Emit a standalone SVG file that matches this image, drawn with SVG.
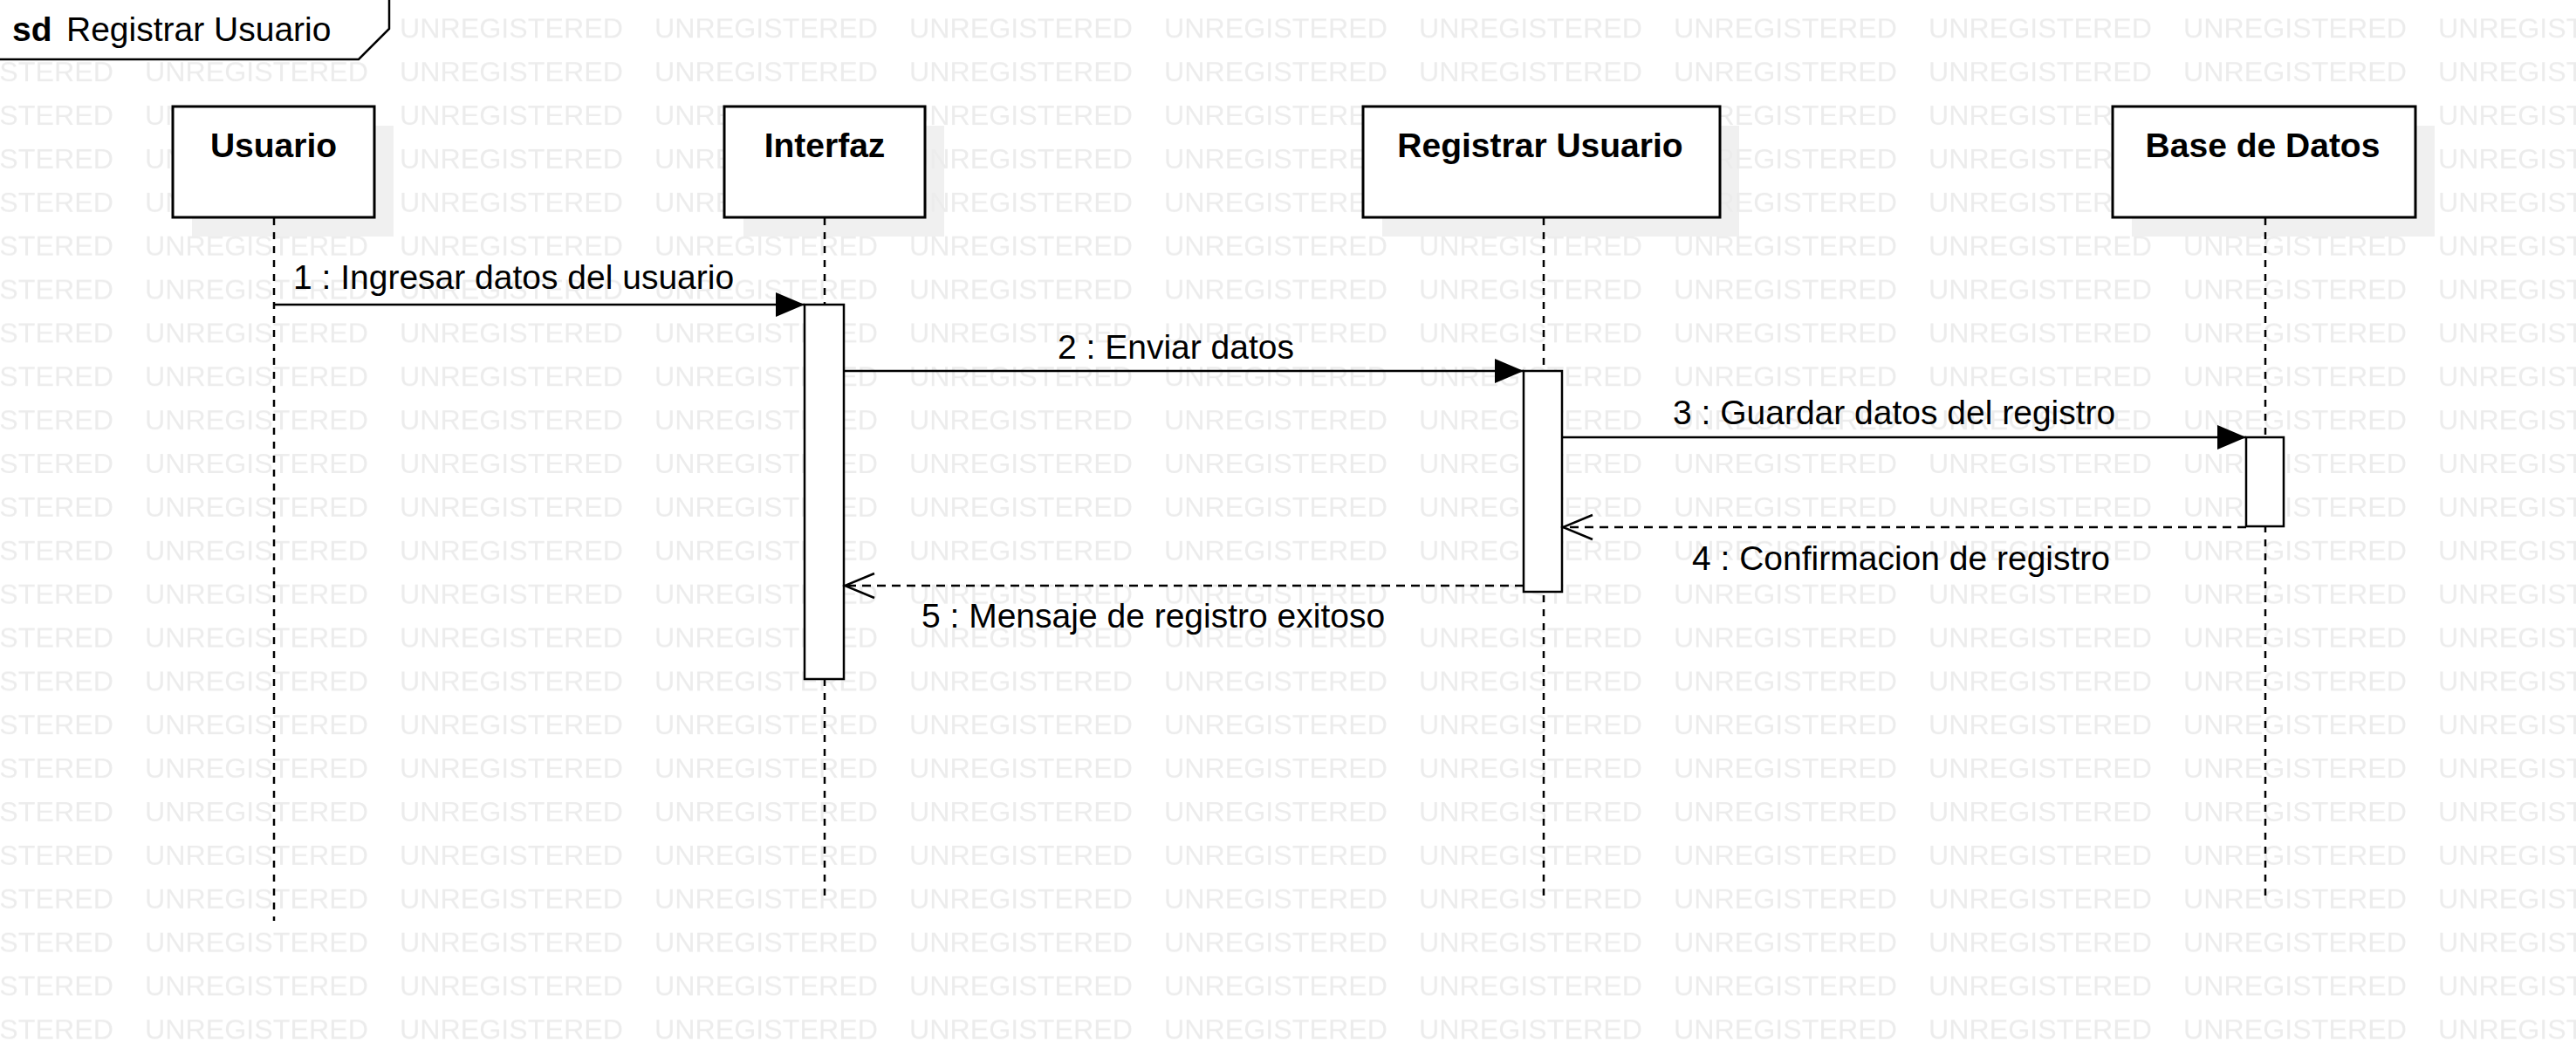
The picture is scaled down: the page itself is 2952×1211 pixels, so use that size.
<svg xmlns="http://www.w3.org/2000/svg" width="2952" height="1211" viewBox="0 0 2952 1211">
<style>
.t{font-family:"Liberation Sans",Arial,sans-serif;font-size:39px;fill:#000}
.b{font-weight:bold}
.box{fill:#fff;stroke:#000;stroke-width:3}
.sh{fill:#f0f0f0}
.life{stroke:#000;stroke-width:2.5;stroke-dasharray:8 8;fill:none}
.bar{fill:#fff;stroke:#000;stroke-width:2.5}
.msg{stroke:#000;stroke-width:2.5;fill:none}
.ret{stroke:#000;stroke-width:2.5;fill:none;stroke-dasharray:10 7}
.wm{font-family:"Liberation Sans",Arial,sans-serif;font-size:31px;fill:#ececec}
</style>
<defs>
<pattern id="wmp" patternUnits="userSpaceOnUse" x="166" y="3.4" width="292" height="49.87">
<text class="wm" x="0" y="40" textLength="256" lengthAdjust="spacingAndGlyphs">UNREGISTERED</text>
</pattern>
<marker id="fill" markerUnits="userSpaceOnUse" viewBox="0 0 33 28" refX="33" refY="14" markerWidth="33" markerHeight="28" orient="auto">
<path d="M0,0 L33,14 L0,28 Z" fill="#000"/>
</marker>
<marker id="open" markerUnits="userSpaceOnUse" viewBox="-3 -3 40 34" refX="34" refY="14" markerWidth="40" markerHeight="34" orient="auto">
<path d="M0,0 L34,14 L0,28" fill="none" stroke="#000" stroke-width="2.5"/>
</marker>
</defs>
<rect x="0" y="0" width="2952" height="1211" fill="#fff"/>
<g id="shadows">
<rect class="sh" x="220" y="144" width="231" height="127"/>
<rect class="sh" x="852" y="144" width="230" height="127"/>
<rect class="sh" x="1584" y="144" width="409" height="127"/>
<rect class="sh" x="2443" y="144" width="347" height="127"/>
</g>
<rect id="watermark" x="0" y="0" width="2952" height="1211" fill="url(#wmp)"/>
<g id="frame">
<path d="M-10,-10 L446,-10 L446,33 L411,68 L-10,68 Z" fill="#fff" stroke="#000" stroke-width="2.5"/>
<text class="t" x="14" y="47"><tspan class="b">sd</tspan><tspan x="76">Registrar Usuario</tspan></text>
</g>
<g id="lifelines">
<line class="life" x1="314" y1="250" x2="314" y2="1055"/>
<line class="life" x1="945" y1="250" x2="945" y2="1031"/>
<line class="life" x1="1769" y1="250" x2="1769" y2="1031"/>
<line class="life" x1="2596" y1="250" x2="2596" y2="1031"/>
</g>
<g id="node-usuario">
<rect class="box" x="198" y="122" width="231" height="127"/>
<text class="t b" x="313.5" y="180" text-anchor="middle">Usuario</text>
</g>
<g id="node-interfaz">
<rect class="box" x="830" y="122" width="230" height="127"/>
<text class="t b" x="945" y="180" text-anchor="middle">Interfaz</text>
</g>
<g id="node-registrar">
<rect class="box" x="1562" y="122" width="409" height="127"/>
<text class="t b" x="1765" y="180" text-anchor="middle">Registrar Usuario</text>
</g>
<g id="node-base">
<rect class="box" x="2421" y="122" width="347" height="127"/>
<text class="t b" x="2593" y="180" text-anchor="middle">Base de Datos</text>
</g>
<g id="activations">
<rect class="bar" x="922" y="349" width="45" height="429"/>
<rect class="bar" x="1746" y="425" width="44" height="253"/>
<rect class="bar" x="2574" y="501" width="43" height="102"/>
</g>
<g id="connectors">
<line class="msg" x1="314" y1="349" x2="922" y2="349" marker-end="url(#fill)"/>
<line class="msg" x1="967" y1="425" x2="1746" y2="425" marker-end="url(#fill)"/>
<line class="msg" x1="1790" y1="501" x2="2574" y2="501" marker-end="url(#fill)"/>
<line class="ret" x1="2574" y1="604" x2="1791" y2="604" marker-end="url(#open)"/>
<line class="ret" x1="1746" y1="671" x2="968" y2="671" marker-end="url(#open)"/>
<text class="t" x="336" y="331">1 : Ingresar datos del usuario</text>
<text class="t" x="1212" y="411">2 : Enviar datos</text>
<text class="t" x="1917" y="486">3 : Guardar datos del registro</text>
<text class="t" x="1939" y="653">4 : Confirmacion de registro</text>
<text class="t" x="1056" y="719">5 : Mensaje de registro exitoso</text>
</g>
</svg>
